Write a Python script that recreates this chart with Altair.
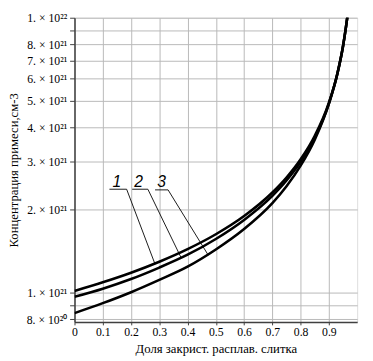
import altair as alt
import pandas as pd

# fraction solidified
g = [0, 0.1, 0.2, 0.3, 0.4, 0.5, 0.6, 0.7, 0.75, 0.8, 0.85, 0.9, 0.93, 0.95, 0.96, 0.966]
# concentrations, units of 1e21 cm^-3
c1 = [1.014, 1.090, 1.181, 1.295, 1.439, 1.630, 1.899, 2.313, 2.621, 3.054, 3.719, 4.909, 6.27, 7.89, 9.20, 10.2]
c2 = [0.965, 1.033, 1.120, 1.233, 1.373, 1.567, 1.838, 2.248, 2.557, 2.992, 3.658, 4.87, 6.24, 7.87, 9.19, 10.2]
c3 = [0.842, 0.915, 1.003, 1.112, 1.242, 1.434, 1.702, 2.114, 2.435, 2.895, 3.60, 4.87, 6.27, 7.89, 9.20, 10.2]

curve_names = ["1", "2", "3"]

y_ticks = [8e20, 9e20, 1e21, 2e21, 3e21, 4e21, 5e21, 6e21, 7e21, 8e21, 9e21, 1e22]
y_labels = ["8. × 10²⁰", "", "1. × 10²¹", "2. × 10²¹", "3. × 10²¹", "4. × 10²¹",
            "5. × 10²¹", "6. × 10²¹", "7. × 10²¹", "8. × 10²¹", "", "1. × 10²²"]
x_ticks = [0, 0.1, 0.2, 0.3, 0.4, 0.5, 0.6, 0.7, 0.8, 0.9]

# leader lines for labels (x, y in 1e21)
lead_label = ["1", "1", "1", "2", "2", "2", "3", "3", "3"]
lead_x = [0.1235, 0.1844, 0.285, 0.204, 0.2595, 0.377, 0.285, 0.331, 0.473]
lead_y = [2.377, 2.377, 1.268, 2.377, 2.377, 1.34, 2.364, 2.364, 1.369]
text_x = [0.150, 0.227, 0.308]
text_y = [2.53, 2.53, 2.53]

rows = []
for name, cs in zip(curve_names, [c1, c2, c3]):
    for i, (gx, cv) in enumerate(zip(g, cs)):
        rows.append({"g": gx, "c": cv * 1e21, "curve": name, "o": i})
df = pd.DataFrame(rows)

lead = pd.DataFrame({"g": lead_x, "c": [v * 1e21 for v in lead_y], "lab": lead_label,
                     "o": list(range(len(lead_x)))})
txt = pd.DataFrame({"g": text_x, "c": [v * 1e21 for v in text_y], "t": curve_names})

expr = "''"
for t, l in reversed(list(zip(y_ticks, y_labels))):
    expr = f"datum.value < {t * 1.04:.4g} ? '{l}' : ({expr})"

serif = "Liberation Serif"

xs = alt.Scale(domain=[0, 1.0], nice=False, zero=False)
ys = alt.Scale(type="log", domain=[7.82e20, 1e22], nice=False)

xax = alt.Axis(values=x_ticks, format="~g", title="Доля закрист. расплав. слитка",
               labelFont=serif, labelFontSize=12, labelColor="black", labelOverlap=False,
               titleFont=serif, titleFontSize=13, titleFontWeight="normal", titleColor="black",
               titleX=144.5, titleY=27, titleBaseline="middle", titleAlign="center",
               grid=True, gridColor="#b8b8b8", gridWidth=1,
               domainColor="#404040", domainWidth=1.5, tickColor="#404040", tickSize=3,
               labelPadding=2, labelFlush=False)
yax = alt.Axis(values=y_ticks, labelExpr=expr, title="Концентрация примеси,см-3",
               labelFont=serif, labelFontSize=12, labelColor="black", labelPadding=3,
               labelOverlap=False,
               titleFont=serif, titleFontSize=13, titleFontWeight="normal", titleColor="black",
               titleX=-62, titleY=155.5, titleAngle=-90, titleBaseline="middle", titleAlign="center",
               grid=True, gridColor="#b8b8b8", gridWidth=1,
               domainColor="#404040", domainWidth=1.5, tickColor="#404040", tickSize=5,
               labelFlush=False)

X = alt.X("g:Q", scale=xs, axis=xax)
Y = alt.Y("c:Q", scale=ys, axis=yax)

lines = alt.Chart(df).mark_line(color="black", strokeWidth=2.6, clip=True, interpolate="monotone").encode(
    x=X, y=Y,
    detail="curve:N",
    order="o:Q",
)

leaders = alt.Chart(lead).mark_line(color="black", strokeWidth=0.9).encode(
    x=X, y=Y,
    detail="lab:N",
    order="o:Q",
)

labels = alt.Chart(txt).mark_text(font="Liberation Sans", fontStyle="italic", fontSize=16,
                                  color="black", align="center", baseline="middle").encode(
    x=X, y=Y,
    text="t:N",
)

chart = alt.layer(lines, leaders, labels).properties(
    width=289, height=311,
    padding={"left": 68, "top": 6, "right": 8, "bottom": 36},
    autosize=alt.AutoSizeParams(type="none"),
).configure_view(stroke="transparent").configure(background="white")

chart.save("out.html", embed_options={"renderer": "svg", "actions": False})
